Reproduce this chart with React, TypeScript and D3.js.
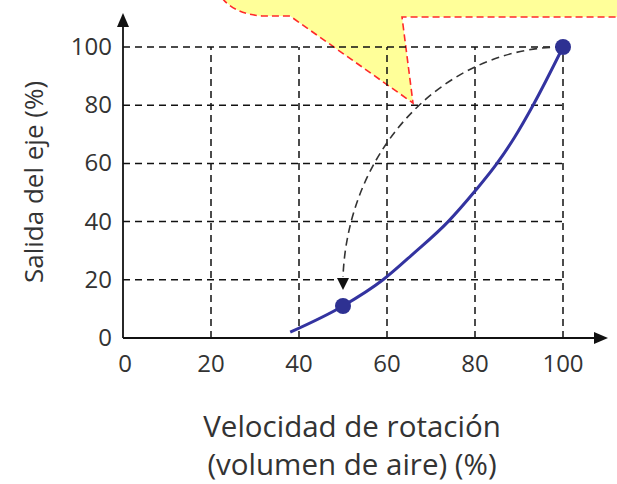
import React from "react";
import * as d3 from "d3";

const xTicks = [0, 20, 40, 60, 80, 100];
const yTicks = [0, 20, 40, 60, 80, 100];
const curveX = [38, 50, 59.1, 66, 73.9, 80, 85, 89, 93.2, 100];
const curveY = [2, 11, 20, 29, 40, 50.5, 60, 69, 80, 100];
const pointX = [50, 100];
const pointY = [11, 100];
// dashed arrow: quarter ellipse from the 100% point down to the 50% speed point
const arcStart = [100, 100];
const arcEnd = [50, 17.5];
const arrowTip = [50, 16.5];
const xTitle = ["Velocidad de rotación", "(volumen de aire) (%)"];
const yTitle = "Salida del eje (%)";

export default function App() {
  const W = 617, H = 484;
  const x = d3.scaleLinear().domain([0, 100]).range([123, 563]);
  const y = d3.scaleLinear().domain([0, 100]).range([338, 47]);
  const font = "'Open Sans', 'Noto Sans', sans-serif";
  const textColor = "#333";

  const curvePts: [number, number][] = curveX.map((v, i) => [x(v), y(curveY[i])]);
  const blueLine = d3.line().curve(d3.curveMonotoneX);

  const sx = x(arcStart[0]), sy = y(arcStart[1]);
  const ex = x(arcEnd[0]), ey = y(arcEnd[1]);
  const rx = sx - ex, ry = ey - sy;
  const arcD = `M ${sx} ${sy} A ${rx} ${ry} 0 0 0 ${ex} ${ey - 10}`;
  const tipX = x(arrowTip[0]), tipY = y(arrowTip[1]);

  return (
    <svg width={W} height={H} style={{ position: "absolute", left: 0, top: 0 }}>
      <rect width={W} height={H} fill="#fff" />
      {/* callout */}
      <path
        d={`M 222 -2 Q 235 14 262 16 L 290 16 L 413 103 L 402 17 L 620 17 L 620 -2 Z`}
        fill="#ffff99"
        stroke="none"
      />
      <path
        d={`M 222 -2 Q 235 14 262 16 L 290 16 L 413 103 L 402 17 L 620 17`}
        fill="none"
        stroke="#ff2a2a"
        strokeWidth={1.6}
        strokeDasharray="7,4"
      />
      {/* grid */}
      {xTicks.filter(t => t > 0).map(t => (
        <line key={"gx" + t} x1={x(t)} x2={x(t)} y1={y(0)} y2={y(100)} stroke="#111" strokeWidth={1.5} strokeDasharray="7,5" />
      ))}
      {yTicks.filter(t => t > 0).map(t => (
        <line key={"gy" + t} x1={x(0)} x2={x(100)} y1={y(t)} y2={y(t)} stroke="#111" strokeWidth={1.5} strokeDasharray="7,5" />
      ))}
      {/* axes */}
      <line x1={x(0)} x2={x(0)} y1={y(0)} y2={22} stroke="#111" strokeWidth={1.8} />
      <path d={`M ${x(0)} 13 L ${x(0) - 6} 27 L ${x(0) + 6} 27 Z`} fill="#111" />
      <line x1={x(0)} x2={598} y1={y(0)} y2={y(0)} stroke="#111" strokeWidth={1.8} />
      <path d={`M 608 ${y(0)} L 594 ${y(0) - 6} L 594 ${y(0) + 6} Z`} fill="#111" />
      {/* tick labels */}
      {xTicks.map(t => (
        <text key={"tx" + t} x={x(t) + (t === 0 ? 2 : 0)} y={372} textAnchor="middle" fontFamily={font} fontSize={24} fill={textColor}>{t}</text>
      ))}
      {yTicks.map(t => (
        <text key={"ty" + t} x={112} y={y(t) + 8} textAnchor="end" fontFamily={font} fontSize={24} fill={textColor}>{t}</text>
      ))}
      {/* dashed arc */}
      <path d={arcD} fill="none" stroke="#333" strokeWidth={1.6} strokeDasharray="8,5" />
      <path d={`M ${tipX} ${tipY} L ${tipX - 6} ${tipY - 12} L ${tipX + 6} ${tipY - 12} Z`} fill="#111" />
      {/* blue curve */}
      <path d={blueLine(curvePts) || ""} fill="none" stroke="#3333a0" strokeWidth={3} />
      {pointX.map((v, i) => (
        <circle key={"p" + i} cx={x(v)} cy={y(pointY[i])} r={8} fill="#2e3192" />
      ))}
      {/* titles */}
      <text transform={`translate(43,182) rotate(-90)`} textAnchor="middle" fontFamily={font} fontSize={26} fill={textColor}>{yTitle}</text>
      {xTitle.map((t, i) => (
        <text key={"xt" + i} x={352} y={437 + i * 38} textAnchor="middle" fontFamily={font} fontSize={29.5} fill={textColor}>{t}</text>
      ))}
    </svg>
  );
}
